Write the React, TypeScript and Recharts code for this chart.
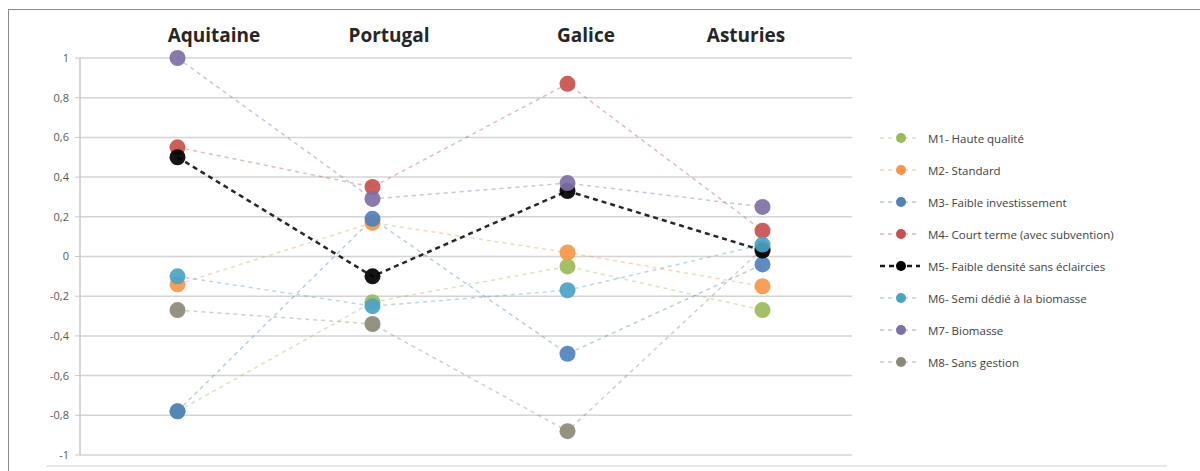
import { LineChart, Line, XAxis, YAxis, CartesianGrid } from 'recharts'

const categories = ['Aquitaine', 'Portugal', 'Galice', 'Asturies']

const m1 = [-0.78, -0.23, -0.05, -0.27]
const m2 = [-0.14, 0.17, 0.02, -0.15]
const m3 = [-0.78, 0.19, -0.49, -0.04]
const m4 = [0.55, 0.35, 0.87, 0.13]
const m5 = [0.5, -0.1, 0.33, 0.03]
const m6 = [-0.1, -0.25, -0.17, 0.06]
const m7 = [1.0, 0.29, 0.37, 0.25]
const m8 = [-0.27, -0.34, -0.88, 0.04]

const yTicks = [-1, -0.8, -0.6, -0.4, -0.2, 0, 0.2, 0.4, 0.6, 0.8, 1]

const series = [
  { key: 'm1', name: 'M1- Haute qualité', values: m1, color: '#9BBB59' },
  { key: 'm2', name: 'M2- Standard', values: m2, color: '#F79646' },
  { key: 'm3', name: 'M3- Faible investissement', values: m3, color: '#4F81BD' },
  { key: 'm4', name: 'M4- Court terme (avec subvention)', values: m4, color: '#C9504D' },
  { key: 'm5', name: 'M5- Faible densité sans éclaircies', values: m5, color: '#000000' },
  { key: 'm6', name: 'M6- Semi dédié à la biomasse', values: m6, color: '#4BA3C6' },
  { key: 'm7', name: 'M7- Biomasse', values: m7, color: '#7E6FA6' },
  { key: 'm8', name: 'M8- Sans gestion', values: m8, color: '#8C8878' },
]

// M8 sits underneath the others in the picture
const drawOrder = ['m8', 'm1', 'm2', 'm3', 'm4', 'm5', 'm6', 'm7']

const data = categories.map((cat, i) => {
  const row: Record<string, string | number> = { cat }
  series.forEach((s) => (row[s.key] = s.values[i]))
  return row
})

const titleX = [214, 389, 586, 746]

const fmt = (v: number) => (Number.isInteger(v) ? String(v) : v.toFixed(1).replace('.', ','))

function LegendBox() {
  return (
    <div style={{ position: 'absolute', left: 876, top: 122 }}>
      {series.map((s) => {
        const black = s.key === 'm5'
        return (
          <div key={s.key} style={{ display: 'flex', alignItems: 'center', height: 32 }}>
            <svg width={46} height={14}>
              <line x1={4} y1={7} x2={44} y2={7} stroke={s.color} strokeOpacity={black ? 0.9 : 0.45} strokeWidth={black ? 2.5 : 1.5} strokeDasharray={black ? '5 4' : '4 4'} />
              <circle cx={25} cy={7} r={5} fill={s.color} />
            </svg>
            <span style={{ marginLeft: 6, fontFamily: 'Open Sans', fontSize: 11.5, color: '#404040' }}>{s.name}</span>
          </div>
        )
      })}
    </div>
  )
}

export default function App() {
  return (
    <div style={{ position: 'absolute', left: 0, top: 0, width: 1200, height: 471, background: '#fff', overflow: 'hidden' }}>
      <div style={{ position: 'absolute', left: 8, top: 9, width: 1300, height: 480, borderLeft: '1.5px solid #8a8a8a', borderTop: '1.5px solid #8a8a8a' }} />
      <div style={{ position: 'absolute', left: 46, top: 465, width: 1121, height: 2, background: '#e8e8e8' }} />
      {categories.map((c, i) => (
        <div
          key={c}
          style={{ position: 'absolute', left: titleX[i], top: 22, transform: 'translateX(-50%)', fontFamily: 'Open Sans', fontWeight: 700, fontSize: 19, color: '#262626', whiteSpace: 'nowrap' }}
        >
          {c}
        </div>
      ))}
      <div style={{ position: 'absolute', left: 0, top: 0 }}>
        <LineChart width={852} height={471} data={data} margin={{ top: 58, right: 0, bottom: 16, left: 0 }}>
          <CartesianGrid vertical={false} stroke="#d4d4d4" strokeWidth={1.5} />
          <XAxis dataKey="cat" hide padding={{ left: 97.5, right: 89.5 }} />
          <YAxis
            width={80}
            domain={[-1, 1]}
            ticks={yTicks}
            tickFormatter={fmt}
            tick={{ fontSize: 11, fill: '#595959', fontFamily: 'Open Sans' }}
            axisLine={{ stroke: '#c8c8c8', strokeWidth: 1.5 }}
            tickLine={{ stroke: '#c8c8c8' }}
            tickSize={5}
            tickMargin={6}
            interval={0}
          />
          {drawOrder.map((k) => {
            const s = series.find((x) => x.key === k)!
            const black = k === 'm5'
            return (
              <Line
                key={k}
                dataKey={k}
                name={s.name}
                type="linear"
                stroke={s.color}
                strokeOpacity={black ? 0.85 : 0.4}
                strokeWidth={black ? 2.5 : 1.5}
                strokeDasharray={black ? '5 4' : '4 4'}
                dot={{ r: 8, fill: s.color, stroke: s.color, strokeWidth: 0, fillOpacity: 0.92 }}
                activeDot={false}
                isAnimationActive={false}
              />
            )
          })}
        </LineChart>
      </div>
      <LegendBox />
    </div>
  )
}
